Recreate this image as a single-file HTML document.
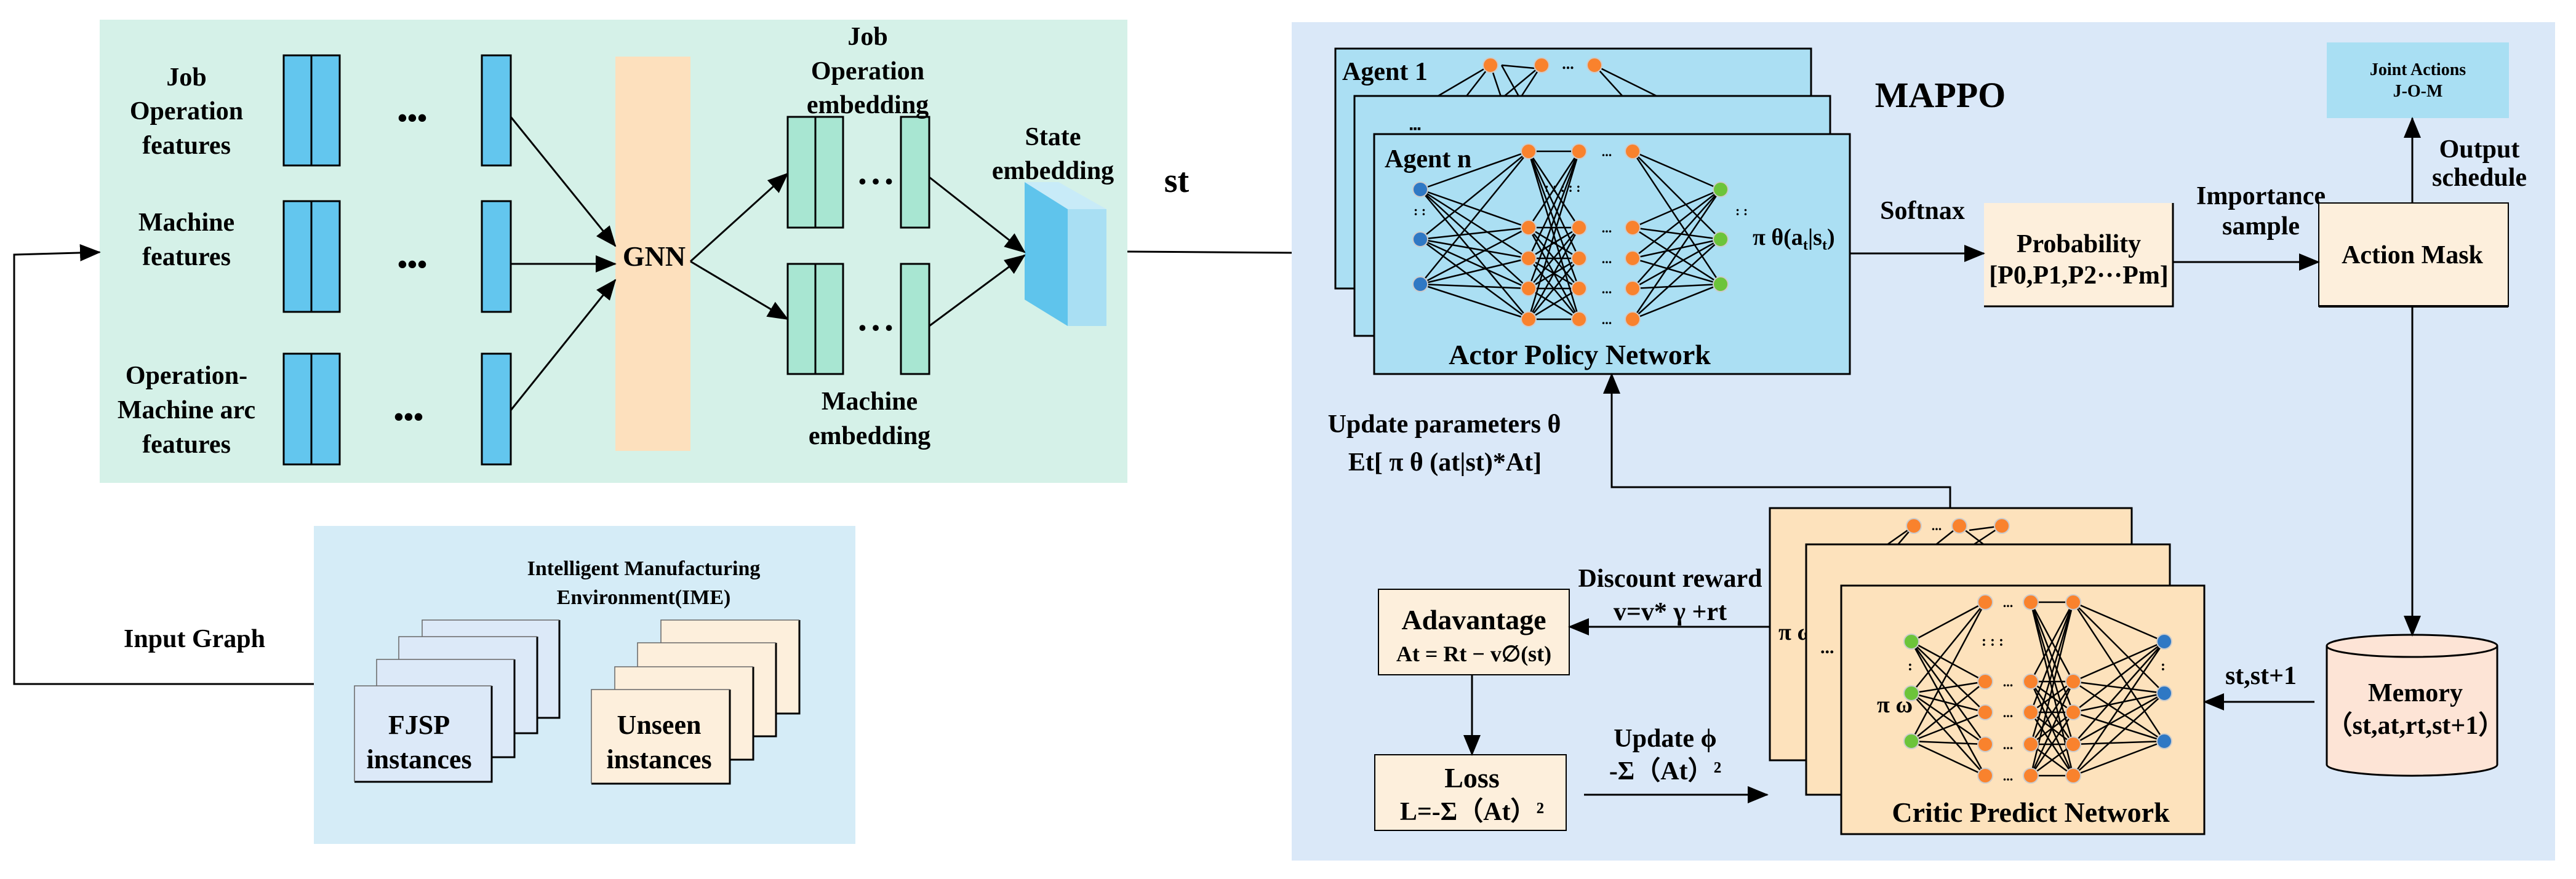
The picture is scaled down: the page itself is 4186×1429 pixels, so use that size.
<!DOCTYPE html>
<html><head><meta charset="utf-8">
<style>
html,body{margin:0;padding:0;background:#fff;}
svg{display:block;font-family:"Liberation Serif","Times New Roman",serif;}
svg text{font-family:"Liberation Serif","Times New Roman",serif !important;fill:#000;}
.b{font-weight:bold;}
</style></head>
<body>
<svg id="s" width="4186" height="1429" viewBox="0 0 4186 1429" xmlns="http://www.w3.org/2000/svg" font-family="Liberation Serif, serif">
<defs>
<marker id="ab" markerWidth="34" markerHeight="28" refX="32" refY="14" orient="auto" markerUnits="userSpaceOnUse" viewBox="0 0 34 28">
<path d="M0,0 L34,14 L0,28 z" fill="#000"/>
</marker>
</defs>

<rect x="162" y="32" width="1670" height="753" fill="#d5f1e8"/>
<g fill="#63c6ee" stroke="#000" stroke-width="3">
<rect x="461" y="90" width="91" height="179"/><line x1="506" y1="90" x2="506" y2="269"/>
<rect x="783" y="90" width="47" height="179"/>
<rect x="461" y="327" width="91" height="180"/><line x1="506" y1="327" x2="506" y2="507"/>
<rect x="783" y="327" width="47" height="180"/>
<rect x="461" y="575" width="91" height="180"/><line x1="506" y1="575" x2="506" y2="755"/>
<rect x="783" y="575" width="47" height="180"/>
</g>
<g class="b" font-size="46" text-anchor="middle">
<text x="670" y="207">•••</text><text x="670" y="445">•••</text><text x="664" y="693">•••</text>
</g>
<rect x="1000" y="92" width="122" height="641" fill="#fde0bd"/>
<text x="1063" y="432" font-size="46" class="b" text-anchor="middle">GNN</text>
<g fill="#a8e6d2" stroke="#000" stroke-width="3">
<rect x="1280" y="190" width="90" height="180"/><line x1="1325" y1="190" x2="1325" y2="370"/>
<rect x="1464" y="190" width="46" height="180"/>
<rect x="1280" y="429" width="90" height="179"/><line x1="1325" y1="429" x2="1325" y2="608"/>
<rect x="1464" y="429" width="46" height="179"/>
</g>
<g class="b" font-size="36" text-anchor="middle"><text x="1423" y="307">• • •</text><text x="1423" y="545">• • •</text></g>
<polygon points="1665,296 1735,340 1798,340 1798,530 1735,530 1665,487" fill="#a9dff3"/>
<polygon points="1665,296 1735,340 1735,530 1665,487" fill="#5fc4ec"/>
<polygon points="1665,296 1720,296 1798,340 1735,340" fill="#c8ebf8"/>
<g stroke="#000" stroke-width="3" fill="none" marker-end="url(#ab)">
<line x1="830" y1="190" x2="1000" y2="400"/>
<line x1="830" y1="429" x2="1000" y2="429"/>
<line x1="830" y1="667" x2="1000" y2="455"/>
<line x1="1122" y1="425" x2="1280" y2="282"/>
<line x1="1122" y1="425" x2="1280" y2="519"/>
<line x1="1510" y1="288" x2="1665" y2="410"/>
<line x1="1510" y1="530" x2="1665" y2="415"/>
<polyline points="510,1112 23,1112 23,414 162,410"/>
</g>
<line x1="1832" y1="409" x2="2240" y2="412" stroke="#000" stroke-width="3"/>
<g class="b" font-size="42" text-anchor="middle">
<text x="303" y="139">Job</text><text x="303" y="194">Operation</text><text x="303" y="250">features</text>
<text x="303" y="375">Machine</text><text x="303" y="431">features</text>
<text x="303" y="624">Operation-</text><text x="303" y="680">Machine arc</text><text x="303" y="736">features</text>
<text x="1410" y="73">Job</text><text x="1410" y="129">Operation</text><text x="1410" y="184">embedding</text>
<text x="1413" y="666">Machine</text><text x="1413" y="722">embedding</text>
<text x="1711" y="236">State</text><text x="1711" y="291">embedding</text>
<text x="316" y="1052">Input Graph</text>
</g>
<text x="1912" y="312" font-size="56" class="b" text-anchor="middle">st</text>

<rect x="510" y="855" width="880" height="517" fill="#d5ecf7"/>
<g class="b" font-size="34" text-anchor="middle"><text x="1046" y="935">Intelligent Manufacturing</text><text x="1046" y="982">Environment(IME)</text></g>
<g id="cards"></g>
<g class="b" font-size="44" text-anchor="middle">
<text x="681" y="1193">FJSP</text><text x="681" y="1249">instances</text>
<text x="1071" y="1193">Unseen</text><text x="1071" y="1249">instances</text>
</g>

<rect x="2099" y="36" width="2053" height="1363" fill="#dae8f8"/>
<g id="agents"></g>
<text x="3153" y="174" font-size="58" class="b" text-anchor="middle">MAPPO</text>
<rect x="3781" y="69" width="296" height="123" fill="#a9dff3"/>
<g font-size="28" class="b" text-anchor="middle"><text x="3929" y="122">Joint Actions</text><text x="3929" y="157">J-O-M</text></g>
<g class="b" font-size="42" text-anchor="middle">
<text x="4029" y="256">Output</text><text x="4029" y="302">schedule</text>
<text x="3124" y="356">Softnax</text>
<text x="3674" y="332">Importance</text><text x="3674" y="381">sample</text>
</g>
<rect x="3224" y="330" width="307" height="168" fill="#fdefdc"/>
<polyline points="3224,498 3531,498 3531,330" stroke="#000" stroke-width="3" fill="none"/>
<rect x="3768" y="330" width="308" height="168" fill="#fdefdc" stroke="#000" stroke-width="2"/>
<line x1="3768" y1="498" x2="4076" y2="498" stroke="#000" stroke-width="4"/>
<g class="b" font-size="42" text-anchor="middle">
<text x="3378" y="410">Probability</text><text x="3378" y="461">[P0,P1,P2···Pm]</text>
<text x="3920" y="428">Action Mask</text>
</g>
<path d="M3781,1050 L3781,1243 A138,18 0 0 0 4058,1243 L4058,1050" fill="#fde4d6" stroke="#000" stroke-width="3"/>
<ellipse cx="3919.5" cy="1050" rx="138.5" ry="18" fill="#fde4d6" stroke="#000" stroke-width="3"/>
<g class="b" font-size="42" text-anchor="middle"><text x="3925" y="1140">Memory</text><text x="3925" y="1193">（st,at,rt,st+1）</text>
<text x="3674" y="1112">st,st+1</text></g>

<rect x="2240" y="958" width="310" height="139" fill="#fdefdc" stroke="#000" stroke-width="2"/>
<rect x="2234" y="1227" width="311" height="123" fill="#fdefdc" stroke="#000" stroke-width="2"/>
<g text-anchor="middle">
<text x="2395" y="1023" font-size="46" class="b">Adavantage</text>
<text x="2395" y="1075" font-size="36" class="b">At = Rt − v∅(st)</text>
<text x="2392" y="1280" font-size="46" class="b">Loss</text>
<text x="2392" y="1333" font-size="42" class="b">L=-Σ（At）²</text>
</g>
<g class="b" font-size="42" text-anchor="middle">
<text x="2347" y="703">Update parameters  θ</text>
<text x="2348" y="765">Et[ π  θ (at|st)*At]</text>
<text x="2714" y="954">Discount reward</text>
<text x="2714" y="1008">v=v* γ +rt</text>
<text x="2706" y="1214">Update  ϕ</text>
<text x="2706" y="1267">-Σ（At）²</text>
</g>
<g stroke="#000" stroke-width="3" fill="none" marker-end="url(#ab)">
<line x1="3006" y1="412" x2="3224" y2="412"/>
<line x1="3531" y1="426" x2="3768" y2="426"/>
<line x1="3920" y1="330" x2="3920" y2="192"/>
<line x1="3920" y1="498" x2="3920" y2="1033"/>
<line x1="3761" y1="1141" x2="3582" y2="1141"/>
<line x1="2876" y1="1019" x2="2550" y2="1019"/>
<line x1="2392" y1="1097" x2="2392" y2="1227"/>
<line x1="2574" y1="1292" x2="2872" y2="1292"/>
<polyline points="3169,826 3169,792 2619,792 2619,608"/>
</g>
</svg>
<script>
var NS="http://www.w3.org/2000/svg";
function el(p,t,a){var e=document.createElementNS(NS,t);for(var k in a)e.setAttribute(k,a[k]);p.appendChild(e);return e;}
function txt(p,x,y,s,sz,anc){var e=el(p,"text",{x:x,y:y,"font-size":sz,"font-weight":"bold","text-anchor":anc||"start"});e.textContent=s;return e;}
var C=document.getElementById("cards");
function card(x,y,w,h,f){el(C,"rect",{x:x,y:y,width:w,height:h,fill:f});el(C,"polyline",{points:x+","+(y+h)+" "+(x+w)+","+(y+h)+" "+(x+w)+","+y,stroke:"#000","stroke-width":3,fill:"none"});el(C,"polyline",{points:x+","+(y+h)+" "+x+","+y+" "+(x+w)+","+y,stroke:"#666","stroke-width":1.5,fill:"none"});}
card(686,1008,223,159,"#dce9f8");card(648,1035,225,157,"#dce9f8");card(612,1072,224,159,"#dce9f8");card(576,1115,223,156,"#dce9f8");
card(1074,1008,225,152,"#fdefdc");card(1036,1045,225,152,"#fdefdc");card(999,1084,225,151,"#fdefdc");card(961,1121,225,153,"#fdefdc");
var A=document.getElementById("agents");
function ln(x1,y1,x2,y2){el(A,"line",{x1:x1,y1:y1,x2:x2,y2:y2,stroke:"#000","stroke-width":2.5});}
function nd(x,y,c){el(A,"circle",{cx:x,cy:y,r:12,fill:c,stroke:"#ccc","stroke-width":2});}
function all(xa,ya,xb,yb){ya.forEach(function(a){yb.forEach(function(b){ln(xa,a,xb,b);});});}
var BLUE="#2f78c4",OR="#f9822d",GR="#6cc43a";
el(A,"rect",{x:2170,y:79,width:773,height:390,fill:"#abdff3",stroke:"#000","stroke-width":3});
[[2422,2330],[2422,2380],[2422,2440],[2505,2440],[2505,2470],[2440,2470],[2591,2640],[2591,2700]].forEach(function(p){ln(p[0],106,p[1],160);});
ln(2440,106,2505,112);
nd(2422,106,OR);nd(2505,106,OR);nd(2591,106,OR);
txt(A,2548,112,"...",26,"middle");
txt(A,2181,130,"Agent 1",42);
el(A,"rect",{x:2201,y:156,width:773,height:390,fill:"#abdff3",stroke:"#000","stroke-width":3});
txt(A,2290,215,"▪▪▪",18);
el(A,"rect",{x:2233,y:218,width:773,height:390,fill:"#abdff3",stroke:"#000","stroke-width":3});
txt(A,2250,272,"Agent n",42);
var iy=[308,389,462],hy=[246,370,420,469,519];
all(2308,iy,2484,hy);all(2484,hy,2566,hy);all(2653,hy,2796,iy);
iy.forEach(function(y){nd(2308,y,BLUE);nd(2796,y,GR);});
hy.forEach(function(y){nd(2484,y,OR);nd(2566,y,OR);nd(2653,y,OR);txt(A,2611,y+8,"...",22,"middle");});
txt(A,2297,350,":  :",22);txt(A,2510,312,":   :   :   :   :",22);txt(A,2820,350,":  :",22);
var t=el(A,"text",{x:2848,y:398,"font-size":38,"font-weight":"bold"});t.innerHTML='π θ(a<tspan font-size="24" dy="8">t</tspan><tspan dy="-8">|s</tspan><tspan font-size="24" dy="8">t</tspan><tspan dy="-8">)</tspan>';
txt(A,2567,592,"Actor Policy Network",46,"middle");
el(A,"rect",{x:2876,y:826,width:588,height:410,fill:"#fde2bc",stroke:"#000","stroke-width":3});
[[3110,3060],[3110,3080],[3184,3140],[3253,3200],[3184,3230]].forEach(function(p){ln(p[0],855,p[1],890);});
ln(3200,862,3253,855);
nd(3110,855,OR);nd(3184,855,OR);nd(3253,855,OR);txt(A,3147,862,"...",22,"middle");
txt(A,2890,1040,"π ω",38);
el(A,"rect",{x:2935,y:885,width:591,height:407,fill:"#fde2bc",stroke:"#000","stroke-width":3});
txt(A,2958,1062,"...",30);
el(A,"rect",{x:2992,y:952,width:590,height:404,fill:"#fde2bc",stroke:"#000","stroke-width":3});
var ci=[1043,1127,1205],ch=[979,1108,1158,1210,1261];
all(3106,ci,3226,ch);all(3300,ch,3369,ch);all(3369,ch,3517,ci);
ci.forEach(function(y){nd(3106,y,GR);nd(3517,y,BLUE);});
ch.forEach(function(y){nd(3226,y,OR);nd(3300,y,OR);nd(3369,y,OR);txt(A,3263,y+8,"...",22,"middle");});
txt(A,3100,1090,":",24);txt(A,3220,1050,":     :     :",24);txt(A,3511,1090,":",24);
txt(A,3050,1158,"π ω",38);
txt(A,3300,1336,"Critic Predict Network",46,"middle");
</script>
</body></html>
